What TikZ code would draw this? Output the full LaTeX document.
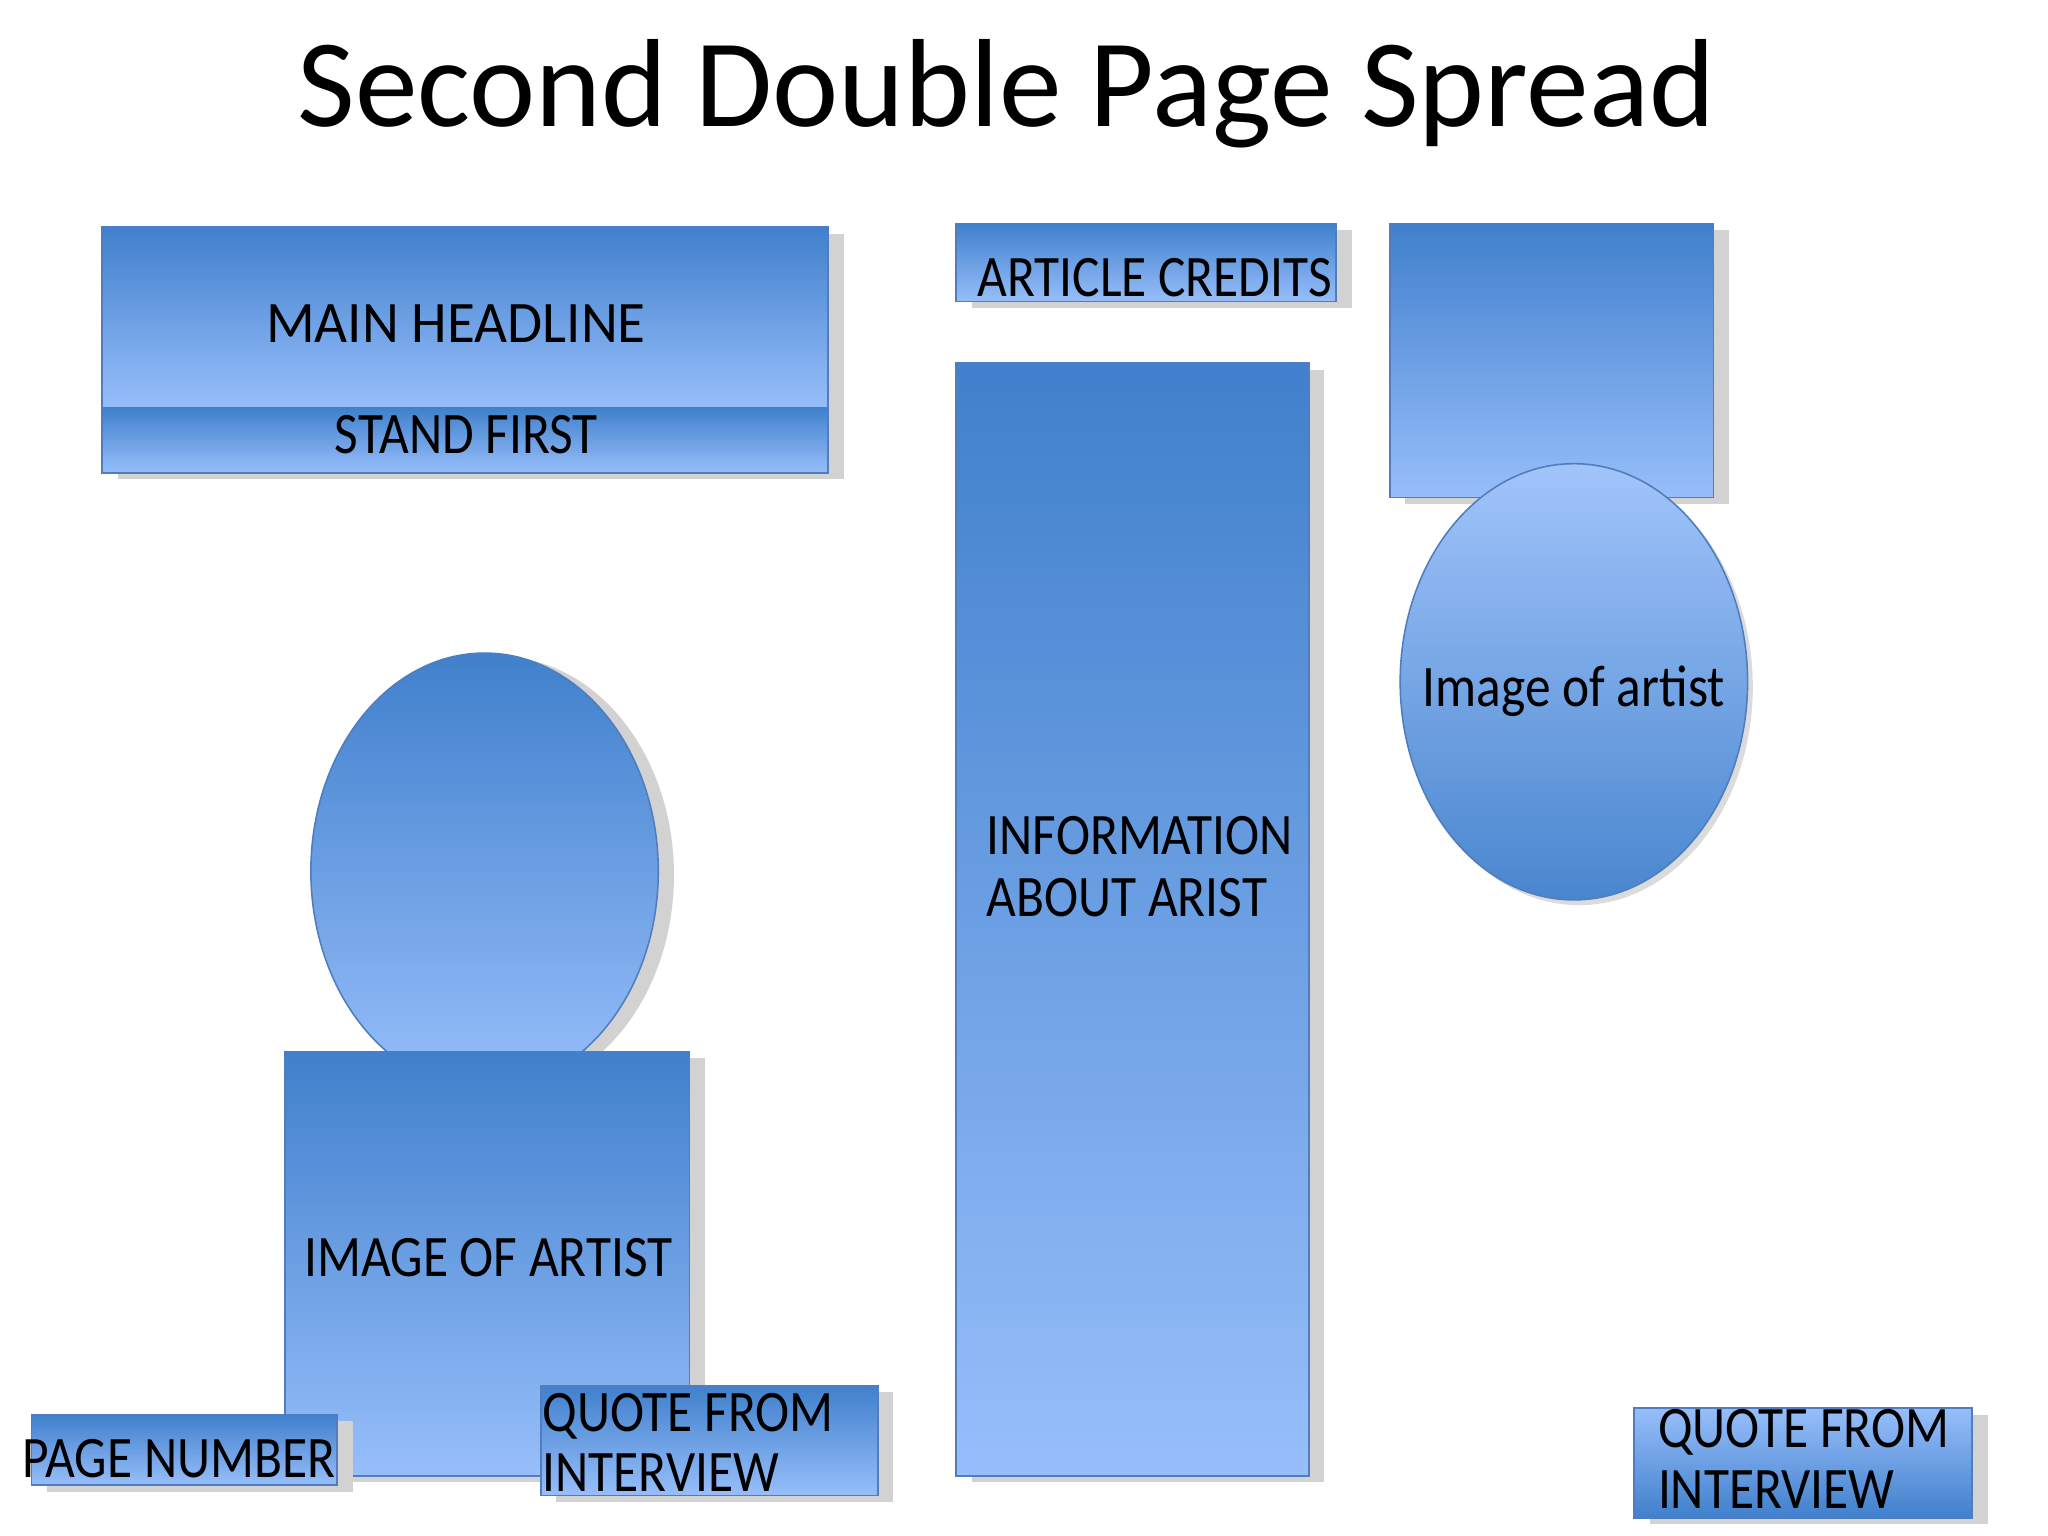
\documentclass[tikz,border=0pt]{standalone}
\usepackage{fontspec}
\setmainfont{Carlito}
\newfontfamily\condfont[FakeStretch=0.875]{Carlito}
\newfontfamily\headfont[FakeStretch=0.97]{Carlito}
\usetikzlibrary{shapes.geometric,shadows}
\definecolor{blueD}{RGB}{64,128,204}
\definecolor{blueL}{RGB}{151,190,250}
\definecolor{edgeC}{RGB}{79,125,190}
\definecolor{shadowC}{RGB}{210,210,210}
\tikzset{
  box/.style={rectangle, draw=edgeC, line width=0.6pt, top color=blueD, bottom color=blueL,
    inner sep=0pt, outer sep=0pt,
    drop shadow={shadow xshift=6pt, shadow yshift=-2.5pt, fill=shadowC, opacity=1}},
  boxrev/.style={box, top color=blueL, bottom color=blueD},
  oval/.style={ellipse, draw=edgeC, line width=0.6pt, top color=blueD, bottom color=blueL,
    inner sep=0pt, outer sep=0pt,
    drop shadow={shadow xshift=6pt, shadow yshift=-1.5pt, fill=shadowC, opacity=1}},
  ovalrev/.style={ellipse, draw=edgeC, line width=0.6pt, top color=blueL!90!white, bottom color=blueD!95!white,
    inner sep=0pt, outer sep=0pt,
    drop shadow={shadow xshift=2pt, shadow yshift=-2pt, fill=shadowC, opacity=0.8}},
  lbl/.style={font=\condfont\fontsize{22.5}{24}\selectfont, text=black, inner sep=0pt},
  hlbl/.style={font=\headfont\fontsize{22.5}{24}\selectfont, text=black, inner sep=0pt},
  ttl/.style={font=\fontsize{48}{52}\selectfont, text=black, inner sep=0pt}
}
\begin{document}
\begin{tikzpicture}[x=0.5pt, y=-0.5pt]
\fill[white] (0,0) rectangle (1568,1176);
\useasboundingbox (0,0) rectangle (1568,1176);

% title
\node[ttl, anchor=base] (title) at (770.5,97) {Second Double Page Spread};

% left page top
\node[box, minimum width=278pt, minimum height=69pt] (head) at (356,243) {};
\node[box, minimum width=278pt, minimum height=25pt] (stand) at (356,337) {};
\node[hlbl, anchor=base] (headT) at (349,262) {MAIN HEADLINE};
\node[lbl, anchor=base] (standT) at (357,347) {STAND FIRST};

% left page figure
\node[oval, minimum width=133pt, minimum height=167pt] (ovL) at (371,667) {};
\node[box, minimum width=155pt, minimum height=162.5pt] (imgL) at (373,967.5) {};
\node[lbl, anchor=base] (imgLT) at (374,977) {IMAGE OF ARTIST};

\node[box, minimum width=117pt, minimum height=27pt] (page) at (141,1110) {};
\node[lbl, anchor=base west] (pageT) at (17,1131) {PAGE NUMBER};

\node[box, minimum width=129pt, minimum height=42pt] (quoteM) at (543,1103) {};
\node[lbl, anchor=base west] (quoteM1) at (415,1096) {QUOTE FROM};
\node[lbl, anchor=base west] (quoteM2) at (415,1142) {INTERVIEW};

% middle column
\node[box, minimum width=145.5pt, minimum height=30pt] (cred) at (877.5,201) {};
\node[lbl, anchor=base west] (credT) at (748,227) {ARTICLE CREDITS};

\node[box, minimum width=135pt, minimum height=426pt] (info) at (867,704) {};
\node[lbl, anchor=base west] (info1) at (755,654) {INFORMATION};
\node[lbl, anchor=base west] (info2) at (755,702) {ABOUT ARIST};

% right page
\node[box, minimum width=124pt, minimum height=105pt] (imgR) at (1188,276) {};
\node[ovalrev, minimum width=133pt, minimum height=167pt] (ovR) at (1205,522) {};
\node[lbl, anchor=base] (ovRT) at (1205,541) {Image of artist};

\node[boxrev, minimum width=129.5pt, minimum height=42pt] (quoteR) at (1380.5,1120) {};
\node[lbl, anchor=base west] (quoteR1) at (1269,1108) {QUOTE FROM};
\node[lbl, anchor=base west] (quoteR2) at (1269,1155) {INTERVIEW};
\end{tikzpicture}
\end{document}
